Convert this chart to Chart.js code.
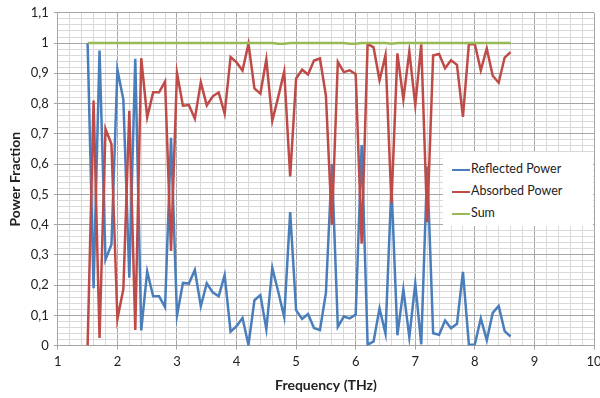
<!DOCTYPE html>
<html>
<head>
<meta charset="utf-8">
<script src="https://cdn.jsdelivr.net/npm/chart.js@4"></script>
<style>
  body { margin: 0; background: #fff; }
  #wrap { position: relative; width: 600px; height: 398px; overflow: hidden; }
  #legend {
    position: absolute; left: 443px; top: 152px; width: 150px; height: 74px;
    background: #fff; font-family: Lato, sans-serif; font-size: 12.5px; color: #222;
  }
  #legend div { position: absolute; left: 9px; height: 18px; line-height: 18px; }
  #legend span { display: inline-block; width: 18px; height: 2.5px; vertical-align: middle; margin-right: 1px; }
</style>
</head>
<body>
<div id="wrap">
  <canvas id="myChart" width="600" height="398"></canvas>
  <div id="legend"></div>
</div>
<script>
const frequencies = [1.5, 1.6, 1.7, 1.8, 1.9, 2.0, 2.1, 2.2, 2.3, 2.4,
  2.5, 2.6, 2.7, 2.8, 2.9, 3.0, 3.1, 3.2, 3.3, 3.4,
  3.5, 3.6, 3.7, 3.8, 3.9, 4.0, 4.1, 4.2, 4.3, 4.4,
  4.5, 4.6, 4.7, 4.8, 4.9, 5.0, 5.1, 5.2, 5.3, 5.4,
  5.5, 5.6, 5.7, 5.8, 5.9, 6.0, 6.1, 6.2, 6.3, 6.4,
  6.5, 6.6, 6.7, 6.8, 6.9, 7.0, 7.1, 7.2, 7.3, 7.4,
  7.5, 7.6, 7.7, 7.8, 7.9, 8.0, 8.1, 8.2, 8.3, 8.4,
  8.5, 8.6]

const reflected = [1.0, 0.19, 0.975, 0.284, 0.334, 0.912, 0.813, 0.224, 0.948, 0.05,
  0.245, 0.163, 0.163, 0.127, 0.687, 0.099, 0.207, 0.205, 0.25, 0.13,
  0.206, 0.176, 0.163, 0.233, 0.046, 0.064, 0.091, 0.002, 0.15, 0.167,
  0.054, 0.257, 0.178, 0.094, 0.441, 0.117, 0.088, 0.104, 0.058, 0.051,
  0.174, 0.6, 0.062, 0.096, 0.09, 0.103, 0.663, 0.003, 0.014, 0.123,
  0.04, 0.53, 0.034, 0.186, 0.028, 0.205, 0.004, 0.592, 0.041, 0.036,
  0.083, 0.057, 0.072, 0.244, 0.003, 0.004, 0.09, 0.018, 0.108, 0.131,
  0.048, 0.03]

const absorbed = [0.0, 0.81, 0.025, 0.716, 0.666, 0.088, 0.187, 0.776, 0.052, 0.95,
  0.755, 0.837, 0.837, 0.873, 0.313, 0.901, 0.793, 0.795, 0.75, 0.87,
  0.794, 0.824, 0.837, 0.767, 0.954, 0.936, 0.909, 0.998, 0.85, 0.833,
  0.946, 0.743, 0.822, 0.906, 0.559, 0.883, 0.912, 0.896, 0.942, 0.949,
  0.826, 0.4, 0.938, 0.904, 0.91, 0.897, 0.337, 0.997, 0.986, 0.877,
  0.96, 0.47, 0.966, 0.814, 0.972, 0.795, 0.996, 0.408, 0.959, 0.964,
  0.917, 0.943, 0.928, 0.756, 0.997, 0.996, 0.91, 0.982, 0.892, 0.869,
  0.952, 0.97]

const total = [1, 1, 1, 1, 1, 1, 1, 1, 1, 1,
  1, 1, 1, 1, 1, 1, 1, 1, 1, 1,
  1, 1, 1, 1, 1, 1, 1, 1, 1, 1,
  1, 1, 0.998, 0.998, 1, 1, 1, 1, 1, 1,
  1, 1, 1, 1, 0.998, 0.998, 1, 1, 1, 1,
  1, 0.998, 1, 1, 1, 1, 1, 1, 1, 1,
  1, 1, 1, 1, 1, 1, 1, 1, 1, 1,
  1, 1]

const SERIES = [
  {label: "Reflected Power", values: reflected, color: "#4A7EBB", order: 3},
  {label: "Absorbed Power", values: absorbed, color: "#BE4B48", order: 2},
  {label: "Sum", values: total, color: "#98B954", order: 1}
]

const MAJOR = "#a6a6a6"
const MINOR = "#d9d9d9"

function isMultiple(v, step) {
    const r = v / step;
    return Math.abs(r - Math.round(r)) < 1e-6;
}

function display_legend() {
    const legend = document.getElementById("legend");
    legend.innerHTML = "";
    for(let i=0; i<SERIES.length; i++) {
        const row = document.createElement("div");
        row.style.top = (8 + i * 22) + "px";
        row.innerHTML = '<span style="background:' + SERIES[i].color + '"></span>' + SERIES[i].label;
        legend.append(row);
    }
}

function display_chart() {
    const font = {family: "Lato, sans-serif", size: 13};
    const data = {
        type: "line",
        data: {
            datasets: SERIES.map(s => ({
                label: s.label,
                data: frequencies.map((f, i) => ({x: f, y: s.values[i]})),
                borderColor: s.color,
                borderWidth: 2.5,
                pointRadius: 0,
                tension: 0,
                fill: false,
                order: s.order
            }))
        },
        options: {
            responsive: false,
            animation: false,
            layout: {padding: {top: 6, right: 6, bottom: 4, left: 7}},
            plugins: {legend: {display: false}, tooltip: {enabled: false}},
            scales: {
                x: {
                    type: "linear", min: 1, max: 10,
                    ticks: {
                        stepSize: 0.2, autoSkip: false, maxRotation: 0, color: "#222", font: font, padding: 4,
                        callback: v => isMultiple(v, 1) ? Math.round(v).toString() : ""
                    },
                    grid: {
                        color: ctx => isMultiple(ctx.tick.value, 1) ? MAJOR : MINOR,
                        tickColor: ctx => isMultiple(ctx.tick.value, 1) ? MAJOR : "rgba(0,0,0,0)",
                        tickLength: 4
                    },
                    border: {color: MAJOR},
                    title: {display: true, text: "Frequency (THz)", color: "#222",
                        font: {family: "Lato, sans-serif", size: 14, weight: "bold"}, padding: {top: 4, bottom: 0}},
                    afterFit: s => { s.paddingRight = 0; }
                },
                y: {
                    min: 0, max: 1.1,
                    ticks: {
                        stepSize: 0.02, autoSkip: false, color: "#222", font: font, padding: 5,
                        callback: v => isMultiple(v, 0.1) ? (Math.round(v * 10) / 10).toString().replace(".", ",") : ""
                    },
                    grid: {
                        color: ctx => isMultiple(ctx.tick.value, 0.1) ? MAJOR : MINOR,
                        tickColor: ctx => isMultiple(ctx.tick.value, 0.1) ? MAJOR : "rgba(0,0,0,0)",
                        tickLength: 4
                    },
                    border: {color: MAJOR},
                    title: {display: true, text: "Power Fraction", color: "#222",
                        font: {family: "Lato, sans-serif", size: 14, weight: "bold"}, padding: {top: 0, bottom: 2}}
                }
            }
        }
    }

    const ctx = document.getElementById("myChart");
    new Chart(ctx, data);
}

display_chart();
display_legend();
</script>
</body>
</html>
